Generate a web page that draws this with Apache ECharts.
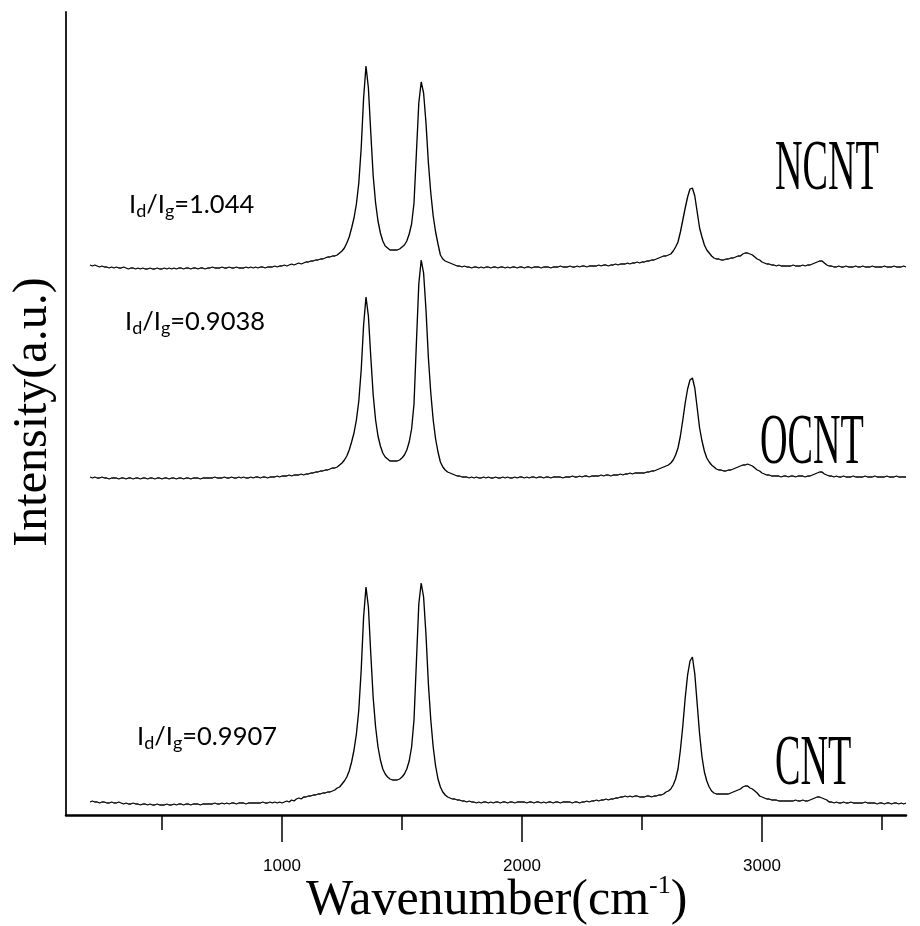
<!DOCTYPE html>
<html><head><meta charset="utf-8">
<script src="https://cdn.jsdelivr.net/npm/echarts@6/dist/echarts.min.js"></script>
<style>html,body{margin:0;padding:0;background:#fff}#chart{width:920px;height:926px}</style>
</head><body><div id="chart"></div>
<script>
// Raman shift grid, cm-1 (10 cm-1 steps)
const wavenumber = [
200,210,220,230,240,250,260,270,280,290,
300,310,320,330,340,350,360,370,380,390,
400,410,420,430,440,450,460,470,480,490,
500,510,520,530,540,550,560,570,580,590,
600,610,620,630,640,650,660,670,680,690,
700,710,720,730,740,750,760,770,780,790,
800,810,820,830,840,850,860,870,880,890,
900,910,920,930,940,950,960,970,980,990,
1000,1010,1020,1030,1040,1050,1060,1070,1080,1090,
1100,1110,1120,1130,1140,1150,1160,1170,1180,1190,
1200,1210,1220,1230,1240,1250,1260,1270,1280,1290,
1300,1310,1320,1330,1340,1350,1360,1370,1380,1390,
1400,1410,1420,1430,1440,1450,1460,1470,1480,1490,
1500,1510,1520,1530,1540,1550,1560,1570,1580,1590,
1600,1610,1620,1630,1640,1650,1660,1670,1680,1690,
1700,1710,1720,1730,1740,1750,1760,1770,1780,1790,
1800,1810,1820,1830,1840,1850,1860,1870,1880,1890,
1900,1910,1920,1930,1940,1950,1960,1970,1980,1990,
2000,2010,2020,2030,2040,2050,2060,2070,2080,2090,
2100,2110,2120,2130,2140,2150,2160,2170,2180,2190,
2200,2210,2220,2230,2240,2250,2260,2270,2280,2290,
2300,2310,2320,2330,2340,2350,2360,2370,2380,2390,
2400,2410,2420,2430,2440,2450,2460,2470,2480,2490,
2500,2510,2520,2530,2540,2550,2560,2570,2580,2590,
2600,2610,2620,2630,2640,2650,2660,2670,2680,2690,
2700,2710,2720,2730,2740,2750,2760,2770,2780,2790,
2800,2810,2820,2830,2840,2850,2860,2870,2880,2890,
2900,2910,2920,2930,2940,2950,2960,2970,2980,2990,
3000,3010,3020,3030,3040,3050,3060,3070,3080,3090,
3100,3110,3120,3130,3140,3150,3160,3170,3180,3190,
3200,3210,3220,3230,3240,3250,3260,3270,3280,3290,
3300,3310,3320,3330,3340,3350,3360,3370,3380,3390,
3400,3410,3420,3430,3440,3450,3460,3470,3480,3490,
3500,3510,3520,3530,3540,3550,3560,3570,3580,3590,
3600];

// Intensities (a.u.) above each spectrum's own baseline
const ncnt = [
3,2,3,2,1,2,1,1,0,1,
0,1,0,0,1,0,-1,0,0,-1,
0,-1,0,-1,-1,0,-1,-1,0,-1,
-1,0,-1,0,-1,0,-1,0,0,-1,
0,0,-1,0,0,-1,0,0,-1,0,
0,1,0,0,0,1,0,0,1,0,
0,1,0,0,0,1,0,1,0,1,
0,1,1,0,1,1,1,2,1,2,
2,3,2,3,4,3,4,5,4,5,
6,6,7,7,8,8,9,9,10,11,
11,12,12,13,15,17,20,25,31,40,
50,64,85,120,170,202,180,135,92,65,
47,35,27,22,20,18,18,18,18,19,
21,23,27,34,44,65,115,165,186,175,
145,105,75,52,36,24,13,9,7,6,
5,4,3,2,2,1,2,1,1,0,
1,1,0,1,0,1,1,0,1,1,
0,1,1,0,1,0,1,1,0,1,
1,0,1,1,0,1,1,1,0,1,
1,1,0,1,1,1,2,1,1,1,
2,1,1,2,1,2,2,1,2,2,
2,2,3,2,3,3,2,3,3,4,
3,4,4,4,5,4,5,5,6,5,
6,6,7,7,8,8,9,10,11,12,
12,13,14,17,21,26,36,48,60,71,
79,80,72,56,40,31,23,18,15,12,
10,9,9,8,8,9,9,10,10,11,
12,12,14,15,15,14,13,11,9,8,
6,5,4,4,3,3,2,3,2,2,
2,2,2,3,2,2,2,3,2,3,
3,4,5,6,7,7,5,3,2,2,
1,1,2,1,1,2,1,1,1,2,
1,1,2,1,1,1,2,1,1,1,
1,2,1,1,1,2,1,1,1,2,
1];

const ocnt = [
1,0,1,0,0,1,0,0,-1,0,
0,0,-1,0,0,-1,0,0,-1,0,
0,-1,0,0,-1,0,0,-1,0,0,
-1,0,0,-1,0,0,-1,0,0,-1,
0,0,-1,0,0,0,-1,0,0,0,
0,0,1,0,0,0,1,0,0,1,
0,0,1,0,1,0,0,1,0,1,
1,0,1,1,0,1,1,1,2,1,
2,2,2,3,2,3,3,3,4,3,
4,4,5,5,6,6,7,7,8,8,
9,10,10,11,13,15,18,22,28,36,
45,58,77,108,153,181,162,121,83,58,
42,32,25,21,19,17,17,17,17,18,
20,23,28,36,49,74,135,194,218,205,
168,120,85,58,39,26,16,11,8,6,
5,4,3,2,2,1,1,1,0,1,
0,1,0,0,1,0,1,0,0,1,
0,0,1,0,1,0,0,1,0,1,
1,0,1,0,1,1,0,1,1,0,
1,1,0,1,1,1,1,0,1,1,
1,2,1,1,2,1,2,2,1,2,
2,2,2,3,2,3,3,2,3,3,
3,4,3,4,4,5,4,5,5,5,
5,5,6,6,7,7,8,9,10,11,
12,13,15,18,23,30,42,58,75,89,
98,100,90,70,50,37,27,20,16,13,
11,9,8,8,7,7,8,8,9,10,
11,12,13,13,14,13,12,10,8,7,
5,4,3,3,2,2,2,2,1,2,
2,1,2,2,1,2,2,2,1,2,
2,3,4,5,6,6,4,3,2,2,
1,2,1,1,2,1,1,1,2,1,
1,1,1,2,1,1,1,2,1,1,
1,1,2,1,1,1,2,1,1,1,
1];

const cnt = [
0,1,0,0,-1,0,0,-1,-1,0,
-1,-1,0,-1,-2,-1,-2,-2,-1,-2,
-2,-3,-2,-2,-3,-2,-3,-3,-2,-3,
-3,-3,-2,-3,-3,-2,-3,-2,-2,-3,
-2,-2,-3,-2,-2,-2,-3,-2,-2,-2,
-2,-2,-1,-2,-2,-1,-2,-1,-2,-1,
-1,-2,-1,-1,-1,-2,-1,-1,-1,-1,
-1,-1,0,-1,-1,0,-1,0,-1,0,
-1,0,1,0,2,1,3,4,3,5,
5,6,6,7,7,8,8,9,9,10,
10,11,12,14,15,18,21,25,31,40,
52,68,92,132,185,215,195,148,104,75,
55,42,33,28,25,23,22,22,22,23,
25,28,33,41,55,82,140,198,219,205,
167,118,82,55,36,23,15,10,7,5,
4,3,3,2,2,1,1,0,1,0,
0,-1,0,-1,0,0,-1,0,-1,0,
0,-1,0,0,-1,0,0,-1,0,0,
0,0,-1,0,0,-1,0,0,-1,0,
-1,0,0,-1,0,0,-1,0,0,0,
0,-1,0,0,-1,0,0,1,0,1,
1,2,1,2,2,3,2,3,3,4,
4,5,5,6,5,6,5,6,6,5,
5,5,6,6,5,6,6,7,7,8,
10,11,13,17,23,33,52,76,104,127,
141,145,128,98,68,45,30,21,15,11,
9,8,8,8,8,8,8,9,10,11,
12,13,15,16,16,14,13,11,9,6,
5,4,3,3,2,2,2,1,1,1,
1,1,1,1,2,1,1,2,1,1,
2,3,4,5,5,4,3,2,0,0,
-1,0,-1,-1,0,-1,-1,0,-1,-1,
-1,-1,-1,0,-1,-1,-1,-1,-2,-1,
-1,-2,-1,-1,-2,-1,-1,-2,-1,-2,
-1];

// Vertical stacking offsets (a.u.)
const sampleNames = ['NCNT', 'OCNT', 'CNT'];
const sampleOffsets = [547, 337, 13];
const sampleSpectra = [ncnt, ocnt, cnt];
const ratioValues = ['1.044', '0.9038', '0.9907'];

const majorTicks = [1000, 2000, 3000];
const minorTicks = [500, 1500, 2500, 3500];
const xRange = [100, 3600];
const yRange = [0, 803];

const chart = echarts.init(document.getElementById('chart'), null, {renderer: 'canvas'});

const series = sampleSpectra.map((arr, k) => ({
  name: sampleNames[k],
  type: 'line',
  xAxisIndex: 0,
  showSymbol: false,
  symbol: 'none',
  silent: true,
  lineStyle: {color: '#000', width: 1.35},
  data: arr.map((h, i) => [wavenumber[i], h + sampleOffsets[k]])
}));

function ratioText(v) {
  return '{b|I}{s|d}{b|/I}{s|g}{b|=' + v + '}';
}
const ratioRich = {
  b: {fontFamily: 'Lato', fontSize: 25.5, lineHeight: 30, fill: '#000'},
  s: {fontFamily: 'Lato', fontSize: 18, lineHeight: 20, verticalAlign: 'bottom', fill: '#000'}
};
const ratioPos = [[129, 205], [125, 322], [137, 737]];
const namePos = [[775, 170, 0.53], [760, 444, 0.53], [775, 765, 0.53]];

const graphics = [];
ratioValues.forEach((v, k) => {
  graphics.push({
    type: 'text', x: ratioPos[k][0], y: ratioPos[k][1], silent: true,
    style: {text: ratioText(v), rich: ratioRich, fill: '#000', align: 'left', verticalAlign: 'middle'}
  });
});
sampleNames.forEach((n, k) => {
  graphics.push({
    type: 'text', x: namePos[k][0], y: namePos[k][1], scaleX: namePos[k][2], silent: true,
    style: {text: n, fill: '#000', font: '72px "Liberation Serif"', align: 'left', verticalAlign: 'middle'}
  });
});
// y-axis title
graphics.push({
  type: 'text', x: 33, y: 412, rotation: Math.PI / 2, silent: true,
  style: {text: 'Intensity(a.u.)', fill: '#000', font: '48px "Liberation Serif"', align: 'center', verticalAlign: 'middle'}
});
// x-axis title with superscript
graphics.push({
  type: 'text', x: 306, y: 901, silent: true,
  style: {
    text: '{n|Wavenumber(cm}{p|-1}{n|)}',
    align: 'left', verticalAlign: 'middle',
    rich: {
      n: {fontFamily: 'Liberation Serif', fontSize: 50, lineHeight: 56, fill: '#000'},
      p: {fontFamily: 'Liberation Serif', fontSize: 26, lineHeight: 30, verticalAlign: 'top', fill: '#000'}
    }
  }
});

chart.setOption({
  animation: false,
  backgroundColor: '#fff',
  grid: {left: 66, right: 14, top: 12, bottom: 111},
  xAxis: [{
    type: 'value', min: xRange[0], max: xRange[1],
    splitLine: {show: false},
    axisLine: {show: true, lineStyle: {color: '#000', width: 2.5}},
    axisTick: {show: true, customValues: majorTicks, length: 27, lineStyle: {color: '#000', width: 1.5}},
    axisLabel: {show: true, customValues: majorTicks, margin: 43, color: '#000', fontSize: 17,
      fontFamily: 'Liberation Sans', formatter: v => String(v)}
  }, {
    type: 'value', min: xRange[0], max: xRange[1], position: 'bottom',
    splitLine: {show: false},
    axisLine: {show: false},
    axisTick: {show: true, customValues: minorTicks, length: 15, lineStyle: {color: '#000', width: 1.5}},
    axisLabel: {show: false}
  }],
  yAxis: {
    type: 'value', min: yRange[0], max: yRange[1],
    splitLine: {show: false},
    axisLine: {show: true, lineStyle: {color: '#222', width: 2}},
    axisTick: {show: false},
    axisLabel: {show: false}
  },
  series: series,
  graphic: graphics
});
</script>
</body></html>
